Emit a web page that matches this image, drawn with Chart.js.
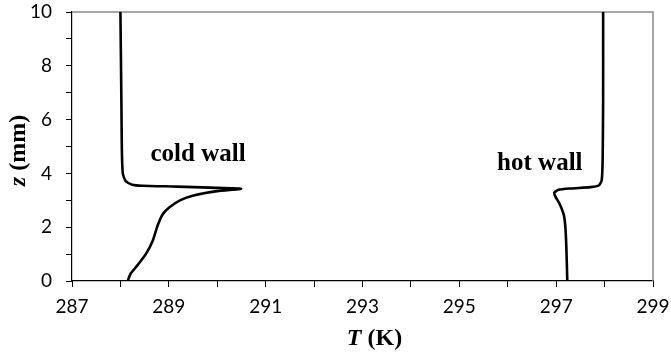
<!DOCTYPE html>
<html lang="en">
<head>
  <meta charset="UTF-8">
  <title>Wall temperature profiles</title>
  <script src="https://cdn.jsdelivr.net/npm/chart.js@4.4.0/dist/chart.umd.min.js"></script>
  <style>
    html, body { margin: 0; padding: 0; background: #fff; }
    #wrap { width: 671px; height: 356px; }
  </style>
</head>
<body>
  <div id="wrap"><canvas id="myChart" width="671" height="356"></canvas></div>
  <script>
    // cold wall profile, height z (mm) and temperature T (K)
    var coldZ = [0, 0.27, 0.58, 1.02, 1.51, 2.07, 2.50, 2.75, 3.00, 3.18, 3.34, 3.43, 3.47, 3.51, 3.54, 3.58, 3.71, 3.99, 4.86, 6.72, 10];
    var coldT = [288.15, 288.21, 288.35, 288.53, 288.67, 288.77, 288.88, 289.02, 289.23, 289.51, 290.00, 290.49, 289.86, 289.16, 288.45, 288.24, 288.11, 288.05, 288.03, 288.02, 288.00];

    // hot wall profile
    var hotZ = [0, 1.26, 2.00, 2.44, 2.87, 3.12, 3.28, 3.39, 3.44, 3.49, 3.55, 3.74, 4.50, 6.72, 10];
    var hotT = [297.23, 297.21, 297.19, 297.16, 297.07, 296.99, 296.96, 297.05, 297.30, 297.71, 297.88, 297.94, 297.96, 297.97, 297.97];

    // labelled ticks
    var xTickLabels = [287, 289, 291, 293, 295, 297, 299];
    var yTickLabels = [0, 2, 4, 6, 8, 10];

    // in-plot labels: text and anchor (T, z)
    var wallLabels = [
      { text: 'cold wall', T: 288.62, z: 4.45 },
      { text: 'hot wall', T: 295.78, z: 4.12 }
    ];

    function toPoints(ts, zs) {
      return zs.map(function(z, i) { return { x: ts[i], y: z }; });
    }

    // draws a row of text parts with different fonts, centred at x
    function drawParts(ctx, parts, x, y) {
      var total = 0;
      parts.forEach(function(p) { ctx.font = p.font; total += ctx.measureText(p.text).width; });
      var cx = x - total / 2;
      ctx.textAlign = 'left';
      ctx.textBaseline = 'alphabetic';
      parts.forEach(function(p) {
        ctx.font = p.font;
        ctx.fillText(p.text, cx, y);
        cx += ctx.measureText(p.text).width;
      });
    }

    var framePlugin = {
      id: 'frame',
      beforeDatasetsDraw: function(chart) {
        var a = chart.chartArea, ctx = chart.ctx;
        ctx.save();
        ctx.strokeStyle = '#8a8a8a';
        ctx.lineWidth = 1.5;
        ctx.beginPath();
        ctx.moveTo(a.left, a.top);
        ctx.lineTo(a.right, a.top);
        ctx.lineTo(a.right, a.bottom);
        ctx.stroke();
        ctx.restore();
      },
      afterDraw: function(chart) {
        var a = chart.chartArea, ctx = chart.ctx;
        var xs = chart.scales.x, ys = chart.scales.y;
        ctx.save();
        ctx.fillStyle = '#000';

        // wall labels
        ctx.font = 'bold 25px "Liberation Serif"';
        ctx.textAlign = 'left';
        ctx.textBaseline = 'alphabetic';
        wallLabels.forEach(function(l) {
          ctx.fillText(l.text, xs.getPixelForValue(l.T), ys.getPixelForValue(l.z));
        });

        // x axis title
        drawParts(ctx, [
          { text: 'T', font: 'italic bold 24px "Liberation Serif"' },
          { text: ' (K)', font: 'bold 24px "Liberation Serif"' }
        ], (a.left + a.right) / 2 + 12, a.bottom + 64);

        // y axis title
        ctx.translate(25, (a.top + a.bottom) / 2 + 4);
        ctx.rotate(-Math.PI / 2);
        drawParts(ctx, [
          { text: 'z', font: 'italic bold 24px "Liberation Serif"' },
          { text: ' (mm)', font: 'bold 24px "Liberation Serif"' }
        ], 0, 0);
        ctx.restore();
      }
    };

    var tickFont = { family: 'Lato', size: 19 };

    var ctx = document.getElementById('myChart').getContext('2d');
    var myChart = new Chart(ctx, {
      type: 'scatter',
      data: {
        datasets: [
          {
            label: 'cold wall',
            data: toPoints(coldT, coldZ),
            showLine: true,
            borderColor: '#000',
            borderWidth: 2.6,
            pointRadius: 0,
            tension: 0.2
          },
          {
            label: 'hot wall',
            data: toPoints(hotT, hotZ),
            showLine: true,
            borderColor: '#000',
            borderWidth: 2.6,
            pointRadius: 0,
            tension: 0.2
          }
        ]
      },
      options: {
        responsive: false,
        animation: false,
        layout: { padding: { left: 0, right: 18, top: 12, bottom: 0 } },
        plugins: {
          legend: { display: false },
          tooltip: { enabled: false }
        },
        scales: {
          x: {
            type: 'linear',
            min: 287,
            max: 299,
            afterFit: function(s) { s.height = 75; s.paddingLeft = 0; s.paddingRight = 0; },
            ticks: {
              stepSize: 1,
              autoSkip: false,
              maxRotation: 0,
              padding: 8,
              color: '#000',
              font: tickFont,
              callback: function(v) { return xTickLabels.indexOf(v) >= 0 ? String(v) : ''; }
            },
            grid: { drawOnChartArea: false, drawTicks: true, tickLength: 6, tickColor: '#000', tickWidth: 1 },
            border: { color: '#000', width: 1.2 }
          },
          y: {
            type: 'linear',
            min: 0,
            max: 10,
            afterFit: function(s) { s.width = 72; s.paddingTop = 0; s.paddingBottom = 0; },
            ticks: {
              stepSize: 1,
              autoSkip: false,
              padding: 14,
              color: '#000',
              font: tickFont,
              callback: function(v) { return yTickLabels.indexOf(v) >= 0 ? String(v) : ''; }
            },
            grid: { drawOnChartArea: false, drawTicks: true, tickLength: 6, tickColor: '#000', tickWidth: 1 },
            border: { color: '#000', width: 1.2 }
          }
        }
      },
      plugins: [framePlugin]
    });
  </script>
</body>
</html>
